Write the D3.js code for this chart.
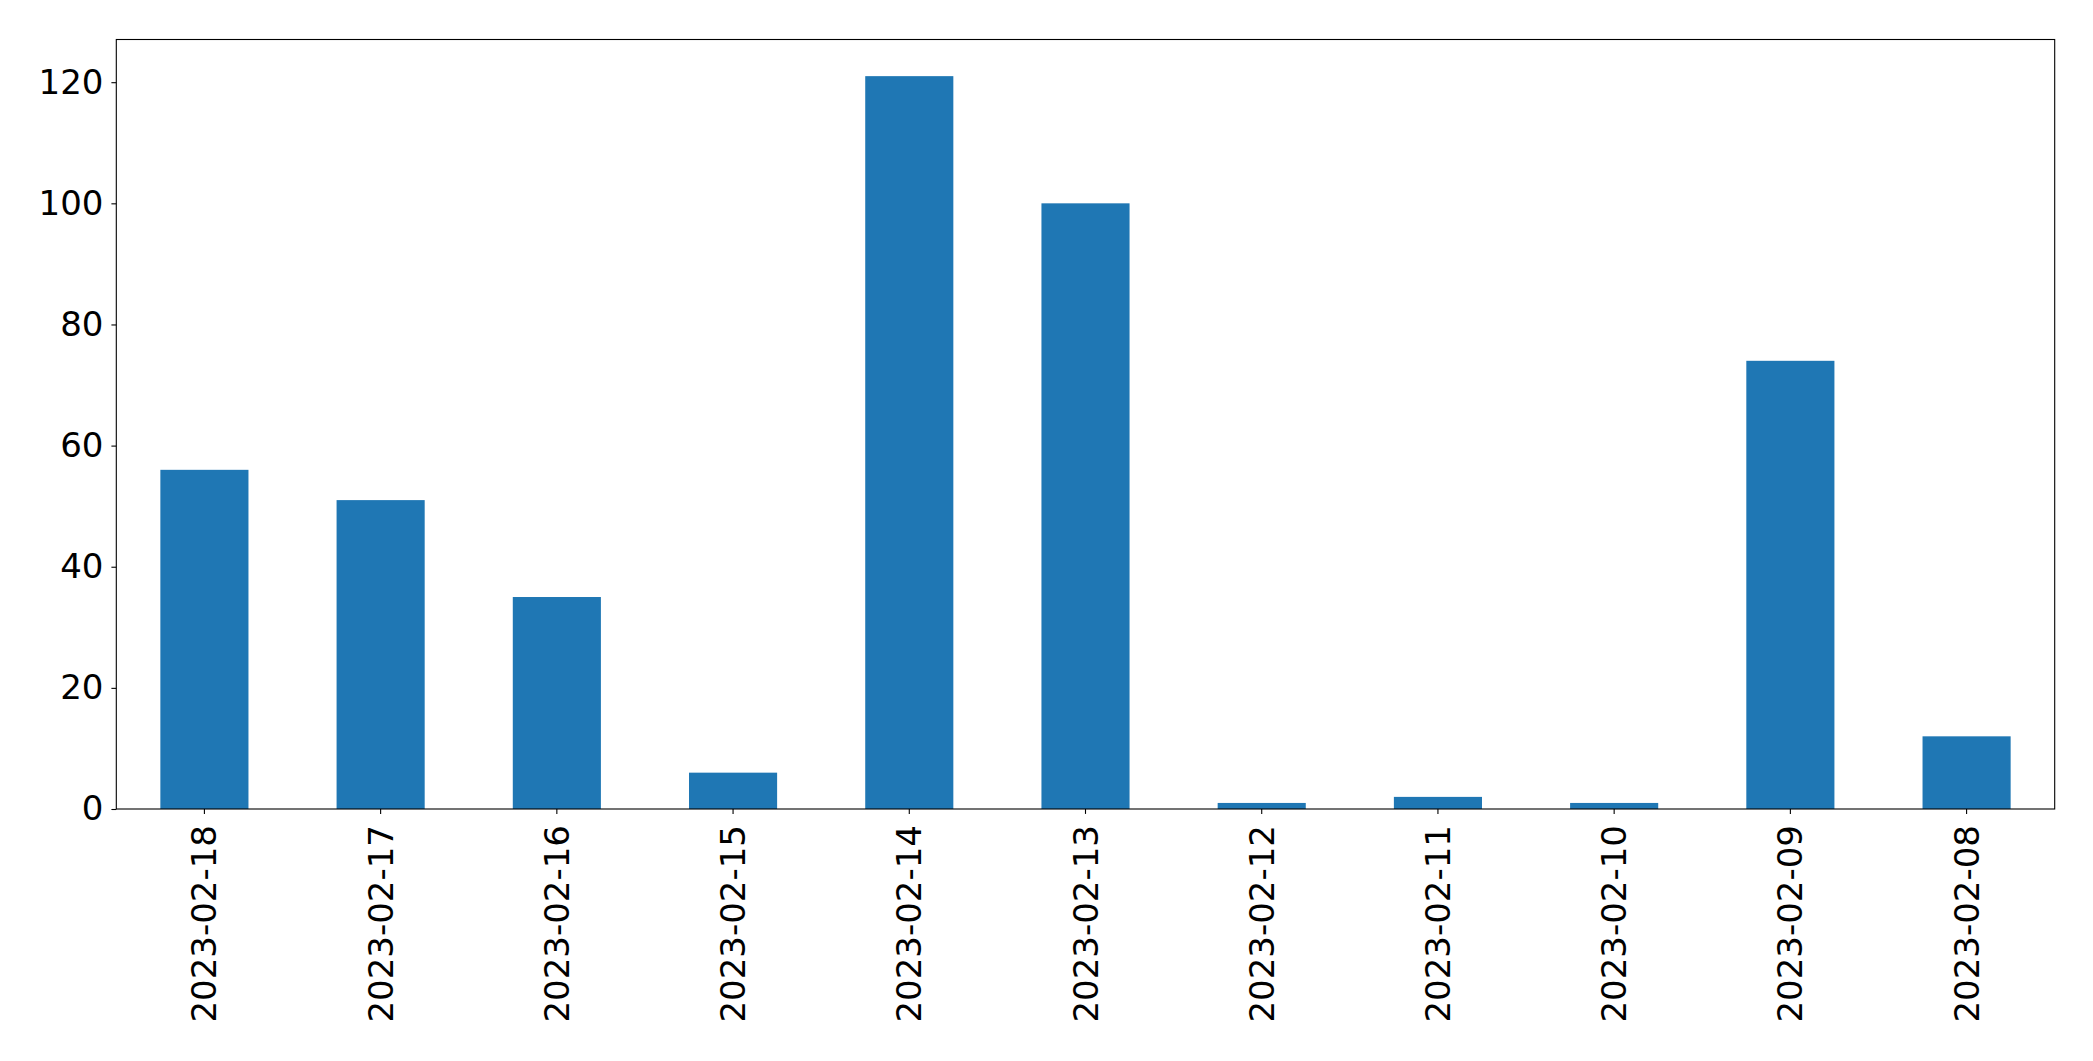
<!DOCTYPE html>
<html>
<head>
<meta charset="utf-8">
<script src="https://cdn.jsdelivr.net/npm/d3@7"></script>
<style>
  html, body { margin: 0; padding: 0; background: #fff; }
  svg { display: block; }
  text { font-family: "DejaVu Sans", sans-serif; }
</style>
</head>
<body>
<svg id="chart" width="2093" height="1061"></svg>
<script>
const categories = ["2023-02-18","2023-02-17","2023-02-16","2023-02-15","2023-02-14","2023-02-13","2023-02-12","2023-02-11","2023-02-10","2023-02-09","2023-02-08"];
const values = [56, 51, 35, 6, 121, 100, 1, 2, 1, 74, 12];
const yTicks = [0, 20, 40, 60, 80, 100, 120];

const svg = d3.select("#chart");
const margin = {left: 116.3, top: 39.5, right: 2093 - 2054.7, bottom: 1061 - 809};
const W = 2093, H = 1061;
const x0 = margin.left, x1 = W - margin.right, y0 = H - margin.bottom, y1 = margin.top;

const x = d3.scaleBand().domain(categories).range([x0, x1]).paddingInner(0.5).paddingOuter(0.25);
const y = d3.scaleLinear().domain([0, d3.max(values) * 1.05]).range([y0, y1]);

svg.append("g").selectAll("rect").data(values).join("rect")
  .attr("x", (d, i) => x(categories[i]))
  .attr("width", x.bandwidth())
  .attr("y", d => y(d))
  .attr("height", d => y(0) - y(d))
  .attr("fill", "#1f77b4");

const fs = 34;
const yAxis = svg.append("g").attr("transform", `translate(${x0},0)`)
  .call(d3.axisLeft(y).tickValues(yTicks).tickSize(4.9).tickPadding(8));
yAxis.select(".domain").remove();
yAxis.selectAll("text").attr("font-size", fs).attr("font-family", "DejaVu Sans").attr("fill", "#000");
yAxis.selectAll("line").attr("stroke", "#000").attr("stroke-width", 1.1);

const xAxis = svg.append("g").attr("transform", `translate(0,${y0})`)
  .call(d3.axisBottom(x).tickSize(4.9).tickPadding(0));
xAxis.select(".domain").remove();
xAxis.selectAll("line").attr("stroke", "#000").attr("stroke-width", 1.1);
xAxis.selectAll("text")
  .attr("font-size", fs).attr("font-family", "DejaVu Sans").attr("fill", "#000")
  .attr("text-anchor", "end")
  .attr("dy", null)
  .attr("y", 0)
  .attr("transform", "translate(0,16) rotate(-90)")
  .attr("dominant-baseline", "central");

svg.append("rect")
  .attr("x", x0).attr("y", y1).attr("width", x1 - x0).attr("height", y0 - y1)
  .attr("fill", "none").attr("stroke", "#000").attr("stroke-width", 1.1);
</script>
</body>
</html>
